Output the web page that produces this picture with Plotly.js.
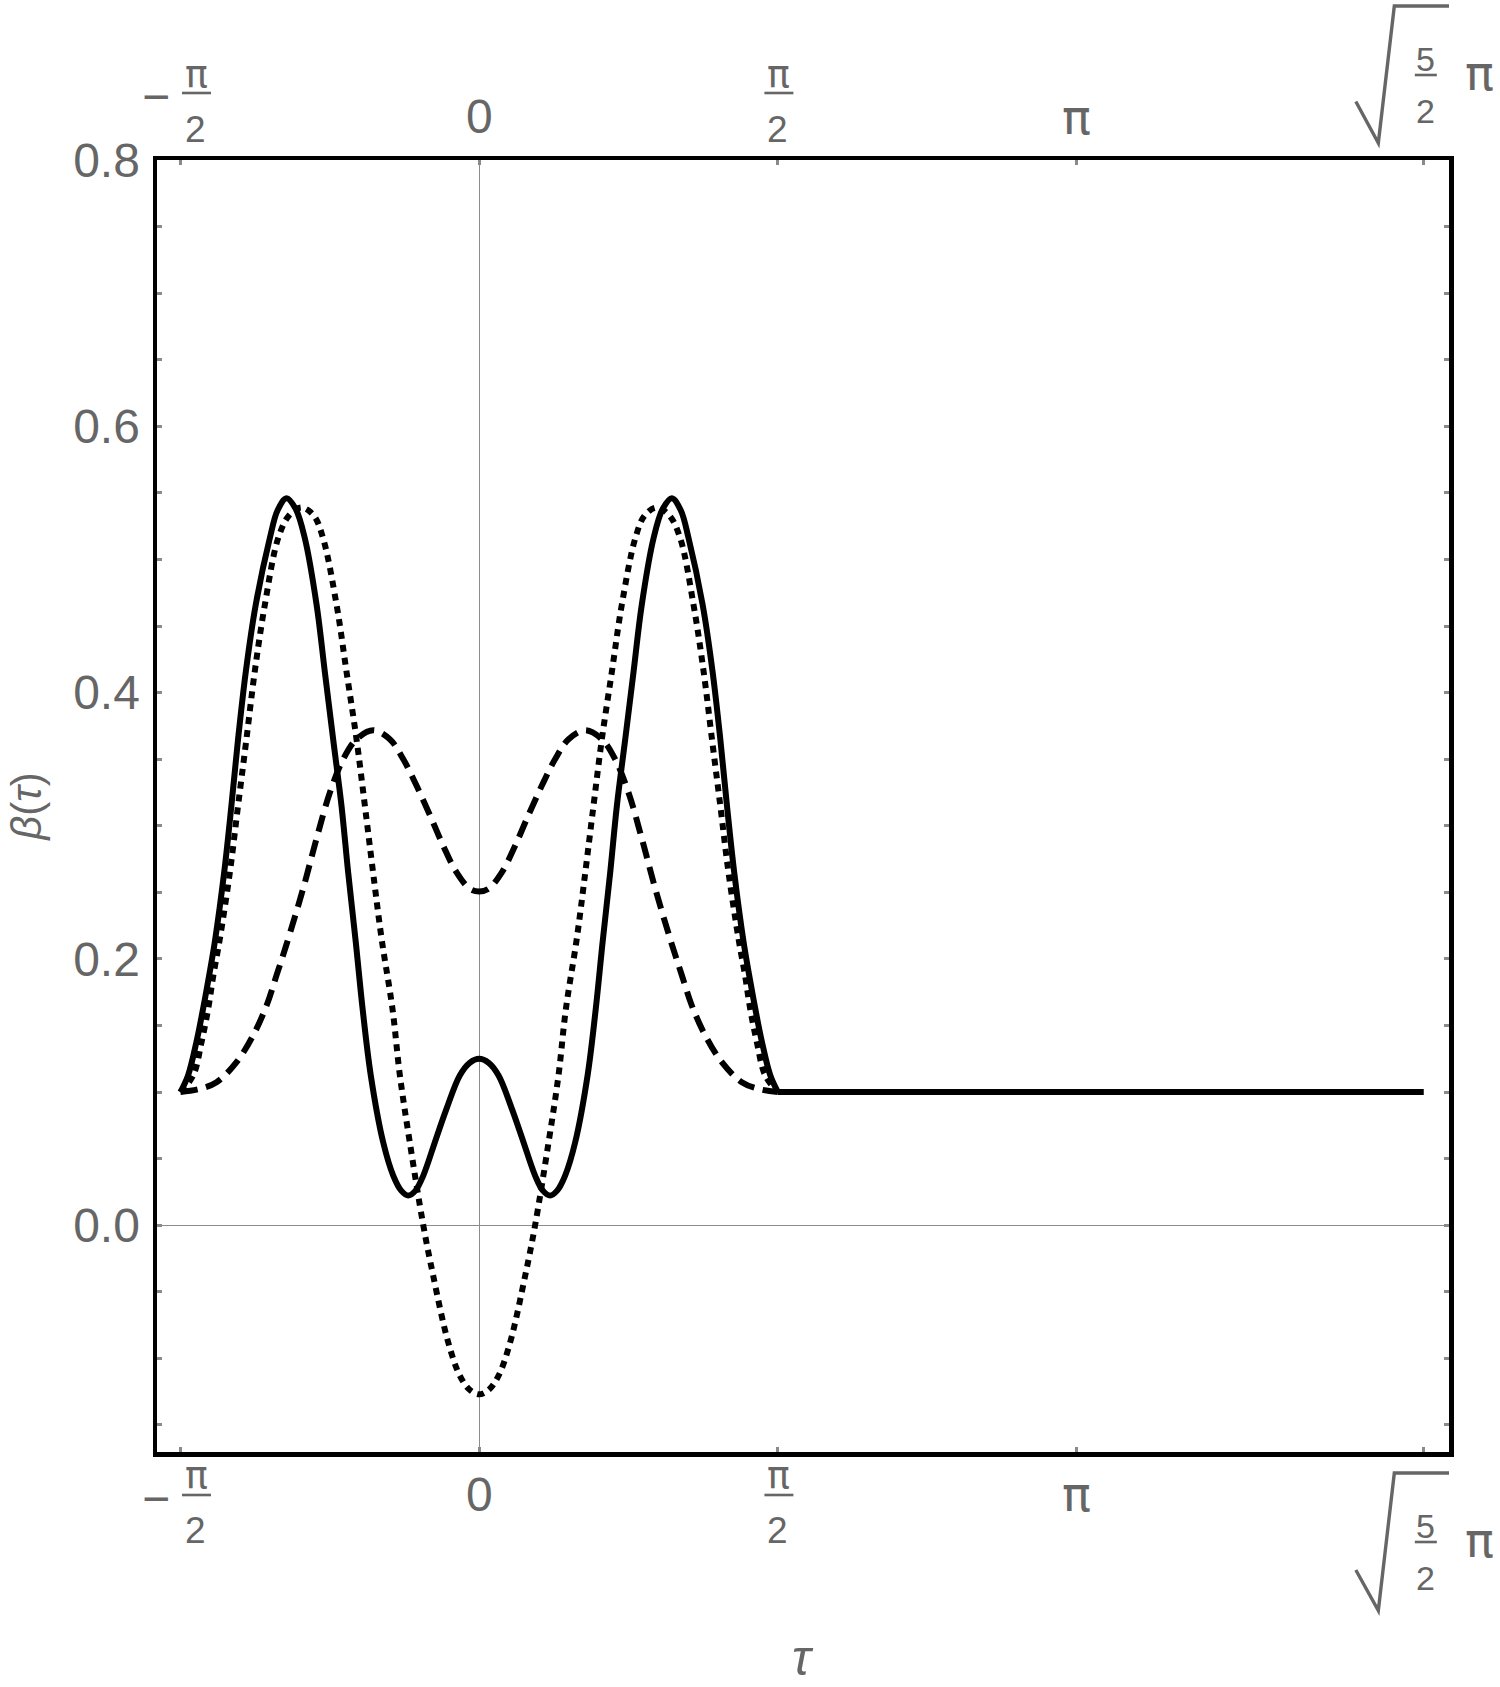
<!DOCTYPE html>
<html>
<head>
<meta charset="utf-8">
<script src="https://cdn.plot.ly/plotly-3.0.1.min.js"></script>
<style>html,body{margin:0;padding:0;background:#fff;}#chart{width:1500px;height:1687px;}</style>
</head>
<body>
<div id="chart"></div>
<script>
// ---- data ----
const tauSolid = [-1.571, -1.531, -1.487, -1.452, -1.420, -1.390, -1.341, -1.303, -1.268, -1.227, -1.175, -1.101, -1.060, -1.013, -0.965, -0.917, -0.855, -0.812, -0.768, -0.724, -0.689, -0.649, -0.613, -0.570, -0.505, -0.452, -0.410, -0.373, -0.335, -0.294, -0.233, -0.172, -0.102, -0.050, 0,
  0.050, 0.102, 0.172, 0.233, 0.294, 0.335, 0.373, 0.410, 0.452, 0.505, 0.570, 0.613, 0.649, 0.689, 0.724, 0.768, 0.812, 0.855, 0.917, 0.965, 1.013, 1.060, 1.101, 1.175, 1.227, 1.268, 1.303, 1.341, 1.390, 1.420, 1.452, 1.487, 1.531, 1.571];
const betaSolid = [0.100, 0.1125, 0.1375, 0.1625, 0.1876, 0.213, 0.265, 0.315, 0.365, 0.416, 0.466, 0.516, 0.537, 0.546, 0.538, 0.516, 0.466, 0.416, 0.365, 0.315, 0.265, 0.2126, 0.1625, 0.1125, 0.0624, 0.0373, 0.026, 0.0223, 0.026, 0.0373, 0.0624, 0.0874, 0.1125, 0.122, 0.125,
  0.122, 0.1125, 0.0874, 0.0624, 0.0373, 0.026, 0.0223, 0.026, 0.0373, 0.0624, 0.1125, 0.1625, 0.2126, 0.265, 0.315, 0.365, 0.416, 0.466, 0.516, 0.538, 0.546, 0.537, 0.516, 0.466, 0.416, 0.365, 0.315, 0.265, 0.213, 0.1876, 0.1625, 0.1375, 0.1125, 0.100];

const tauDotted = [-1.571, -1.504, -1.460, -1.425, -1.398, -1.365, -1.311, -1.268, -1.224, -1.180, -1.127, -1.057, -1.000, -0.934, -0.870, -0.821, -0.750, -0.698, -0.645, -0.601, -0.558, -0.513, -0.456, -0.417, -0.365, -0.294, -0.242, -0.163, -0.102, -0.050, 0,
  0.050, 0.102, 0.163, 0.242, 0.294, 0.365, 0.417, 0.456, 0.513, 0.558, 0.601, 0.645, 0.698, 0.750, 0.821, 0.870, 0.934, 1.000, 1.057, 1.127, 1.180, 1.224, 1.268, 1.311, 1.365, 1.398, 1.425, 1.460, 1.504, 1.571];
const betaDotted = [0.100, 0.1125, 0.1375, 0.1625, 0.1876, 0.214, 0.265, 0.315, 0.365, 0.416, 0.466, 0.516, 0.533, 0.539, 0.533, 0.516, 0.466, 0.416, 0.365, 0.315, 0.265, 0.215, 0.1625, 0.1125, 0.0624, 0.0, -0.0378, -0.0879, -0.1129, -0.1236, -0.127,
  -0.1236, -0.1129, -0.0879, -0.0378, 0.0, 0.0624, 0.1125, 0.1625, 0.215, 0.265, 0.315, 0.365, 0.416, 0.466, 0.516, 0.533, 0.539, 0.533, 0.516, 0.466, 0.416, 0.365, 0.315, 0.265, 0.214, 0.1876, 0.1625, 0.1375, 0.1125, 0.100];

const tauDashed = [-1.571, -1.469, -1.381, -1.276, -1.189, -1.118, -1.066, -1.013, -0.926, -0.856, -0.785, -0.715, -0.645, -0.557, -0.470, -0.399, -0.329, -0.259, -0.189, -0.119, -0.049, 0,
  0.049, 0.119, 0.189, 0.259, 0.329, 0.399, 0.470, 0.557, 0.645, 0.715, 0.785, 0.856, 0.926, 1.013, 1.066, 1.118, 1.189, 1.276, 1.381, 1.469, 1.571];
const betaDashed = [0.100, 0.1024, 0.1074, 0.1225, 0.1425, 0.165, 0.1876, 0.211, 0.2527, 0.290, 0.325, 0.350, 0.365, 0.3717, 0.365, 0.350, 0.330, 0.308, 0.285, 0.265, 0.2527, 0.2507,
  0.2527, 0.265, 0.285, 0.308, 0.330, 0.350, 0.365, 0.3717, 0.365, 0.350, 0.325, 0.290, 0.2527, 0.211, 0.1876, 0.165, 0.1425, 0.1225, 0.1074, 0.1024, 0.100];

const tauFlat = [1.571, 4.967];
const betaFlat = [0.100, 0.100];

const xTickVals = [-Math.PI / 2, 0, Math.PI / 2, Math.PI, Math.sqrt(5 / 2) * Math.PI];
const yTickVals = [0.0, 0.2, 0.4, 0.6, 0.8];
const yTickText = ['0.0', '0.2', '0.4', '0.6', '0.8'];

// ---- styling ----
const GRAY = '#666666';
const FONT = 'Liberation Sans, Arial, sans-serif';
const PIFONT = 'DejaVu Sans, Liberation Sans, sans-serif';

const traces = [
  {x: tauDashed, y: betaDashed, mode: 'lines', line: {color: 'black', width: 6, dash: '17px,9px', shape: 'spline'}, hoverinfo: 'skip'},
  {x: tauDotted, y: betaDotted, mode: 'lines', line: {color: 'black', width: 6, dash: '7px,6px', shape: 'spline'}, hoverinfo: 'skip'},
  {x: tauSolid, y: betaSolid, mode: 'lines', line: {color: 'black', width: 6, shape: 'spline'}, hoverinfo: 'skip'},
  {x: tauFlat, y: betaFlat, mode: 'lines', line: {color: 'black', width: 6}, hoverinfo: 'skip'}
];

const annotations = [];
const shapes = [];
function txt(x, yPaper, dx, dy, text, size, family) {
  annotations.push({x: x, xref: 'x', y: yPaper, yref: 'paper', xanchor: 'center', yanchor: 'middle',
    xshift: dx, yshift: dy, text: text, showarrow: false,
    font: {family: family || FONT, size: size, color: GRAY}});
}
function bar(x, yPaper, dx0, dx1, dy) {
  shapes.push({type: 'line', xref: 'x', xsizemode: 'pixel', xanchor: x, x0: dx0, x1: dx1,
    yref: 'paper', ysizemode: 'pixel', yanchor: yPaper, y0: dy, y1: dy,
    line: {color: GRAY, width: 2.6}});
}
function radical(x, yPaper, pts) {
  let p = 'M' + pts.map(q => q[0] + ',' + q[1]).join(' L');
  shapes.push({type: 'path', xref: 'x', xsizemode: 'pixel', xanchor: x,
    yref: 'paper', ysizemode: 'pixel', yanchor: yPaper, path: p,
    line: {color: GRAY, width: 3.4}});
}

// label offsets (pixels) for bottom (paper 0) and top (paper 1)
const sides = [
  {y: 0, simple: -42, num: -23, bar: -43, den: -78, minus: -46,
   rad: [[-68, -118], [-45.5, -158.5], [-29.5, -21], [26.5, -21]], r5: -74, rbar: -90, r2: -126, rpi: -88},
  {y: 1, simple: 43.5, num: 86.5, bar: 67, den: 31, minus: 63.5,
   rad: [[-68, 58.5], [-45.5, 17], [-29.5, 154], [26.5, 154]], r5: 101, rbar: 85, r2: 49, rpi: 87}
];
sides.forEach(s => {
  // -pi/2
  txt(xTickVals[0], s.y, -24, s.minus, '\u2212', 48);
  txt(xTickVals[0], s.y, 16, s.num, 'π', 38, PIFONT);
  bar(xTickVals[0], s.y, 1.5, 30.5, s.bar);
  txt(xTickVals[0], s.y, 15, s.den, '2', 37);
  // 0
  txt(xTickVals[1], s.y, 0, s.simple, '0', 48);
  // pi/2
  txt(xTickVals[2], s.y, 1, s.num, 'π', 38, PIFONT);
  bar(xTickVals[2], s.y, -13.5, 15.5, s.bar);
  txt(xTickVals[2], s.y, 0, s.den, '2', 37);
  // pi
  txt(xTickVals[3], s.y, 0, s.simple, 'π', 48, PIFONT);
  // sqrt(5/2) pi
  radical(xTickVals[4], s.y, s.rad);
  txt(xTickVals[4], s.y, 2, s.r5, '5', 34);
  bar(xTickVals[4], s.y, -9, 13, s.rbar);
  txt(xTickVals[4], s.y, 2, s.r2, '2', 34);
  txt(xTickVals[4], s.y, 56, s.rpi, 'π', 48, PIFONT);
});

// x axis title
annotations.push({x: 0.5, xref: 'paper', y: 0, yref: 'paper', xanchor: 'center', yanchor: 'middle',
  yshift: -206, text: '<i>τ</i>', showarrow: false, font: {family: FONT, size: 50, color: GRAY}});

const tickStyle = {ticks: 'inside', ticklen: 5, tickwidth: 3, tickcolor: '#8a8a8a'};

const layout = {
  width: 1500, height: 1687,
  margin: {l: 157.25, r: 51.25, t: 160.25, b: 235.25, pad: 0},
  paper_bgcolor: 'white', plot_bgcolor: 'white',
  showlegend: false,
  xaxis: Object.assign({
    range: [-1.6942, 5.0997], tickmode: 'array', tickvals: xTickVals, showticklabels: false,
    showgrid: false, zeroline: true, zerolinecolor: '#8c8c8c', zerolinewidth: 1,
    showline: true, linecolor: 'black', linewidth: 4.5, mirror: 'allticks'
  }, tickStyle),
  yaxis: Object.assign({
    range: [-0.1703, 0.8], tickmode: 'array', tickvals: yTickVals, ticktext: yTickText,
    tickfont: {family: FONT, size: 48, color: GRAY}, ticklabelstandoff: 3,
    minor: {tickmode: 'linear', tick0: 0, dtick: 0.05, ticks: 'inside', ticklen: 5, tickwidth: 3, tickcolor: '#8a8a8a'},
    showgrid: false, zeroline: true, zerolinecolor: '#8c8c8c', zerolinewidth: 1,
    showline: true, linecolor: 'black', linewidth: 4.5, mirror: 'allticks',
    title: {text: '<i>β</i>(<i>τ</i>)', font: {family: FONT, size: 42, color: GRAY}, standoff: 20}
  }, tickStyle),
  annotations: annotations,
  shapes: shapes
};

Plotly.newPlot('chart', traces, layout, {displayModeBar: false, staticPlot: true});
</script>
</body>
</html>
